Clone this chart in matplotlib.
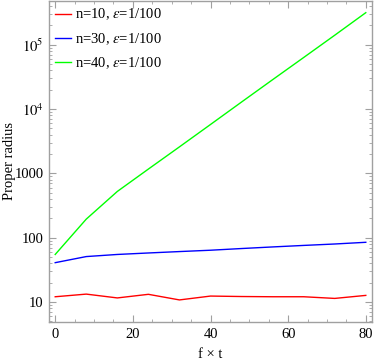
import numpy as np
import matplotlib
matplotlib.use("Agg")
import matplotlib.pyplot as plt
from matplotlib.ticker import LogLocator, MultipleLocator, FixedLocator, FixedFormatter

plt.rcParams['font.family'] = ['Liberation Serif', 'DejaVu Serif']
plt.rcParams['mathtext.fontset'] = 'stix'

# data
t = [0, 8, 16, 24, 32, 40, 48, 56, 64, 72, 80]
r_n10 = [12.1, 13.3, 11.6, 13.2, 10.8, 12.4, 12.2, 12.1, 12.1, 11.4, 12.7]
r_n30 = [41, 51, 55, 58, 61, 64, 68, 72, 76, 80, 85]
r_n40 = [55, 195, 525, 1170, 2590, 5770, 12900, 28700, 63500, 141000, 316000]

labels = [r'n=10, $\epsilon$=1/100', r'n=30, $\epsilon$=1/100', r'n=40, $\epsilon$=1/100']
colors = ['#ff0000', '#0000ff', '#00ff00']

fig = plt.figure(figsize=(3.74, 3.59), dpi=100)
ax = fig.add_axes([49/374, 1 - 322/359, 323/374, 321/359])

for y, c, lab in zip([r_n10, r_n30, r_n40], colors, labels):
    ax.plot(t, y, color=c, lw=1.0, label=lab)

ax.set_yscale('log')
ax.set_xlim(-1.6, 81.6)
ax.set_ylim(4.9, 4.8e5)

ax.xaxis.set_major_locator(MultipleLocator(20))
ax.xaxis.set_minor_locator(MultipleLocator(5))
ax.yaxis.set_major_locator(FixedLocator([10, 100, 1000, 1e4, 1e5]))
ax.yaxis.set_major_formatter(FixedFormatter(['10', '100', '1000', r'$10^4$', r'$10^5$']))
ax.yaxis.set_minor_locator(LogLocator(base=10, subs=np.arange(2, 10)))
ax.yaxis.set_minor_formatter(plt.NullFormatter())

frame_col = '#a0a0a0'
for s in ax.spines.values():
    s.set_color(frame_col)
    s.set_linewidth(1.0)
ax.tick_params(which='both', direction='in', top=True, right=True,
               color=frame_col, labelsize=10.5, labelcolor='black', pad=4)
ax.tick_params(which='major', length=5, width=0.8)
ax.tick_params(which='minor', length=2.5, width=0.6)

ax.set_xlabel('f × t', fontsize=10.5, labelpad=5)
ax.set_ylabel('Proper radius', fontsize=10.5)
ax.yaxis.set_label_coords(-0.103, 0.5)

ax.legend(loc='upper left', frameon=False, fontsize=10.5, handlelength=1.1,
          handletextpad=0.3, labelspacing=0.6, borderaxespad=0.05, borderpad=0.35)

fig.savefig('out.png', dpi=100)
